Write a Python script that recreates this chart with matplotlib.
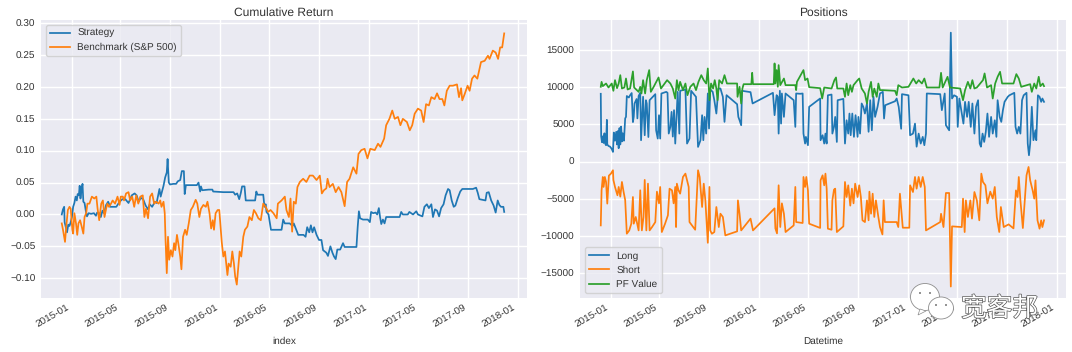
import pandas as pd
from matplotlib import pyplot as plt
from matplotlib import dates as mdates
from matplotlib import patheffects
from matplotlib.patches import Ellipse, Polygon

# all series are stored as days since 2015-01-01
base_date = pd.Timestamp("2015-01-01")

strategy_days = [-24, -21, -18, -17, -14, -11, -8, -5, -2, 1, 4, 7, 10, 13, 15, 18, 20, 22, 24, 27, 29, 32, 35, 38, 42, 48, 55, 60, 63, 68, 72, 76, 80, 85, 90, 95, 100, 110, 118, 125, 132, 140, 148, 155, 160, 165, 170, 176, 182, 188, 192, 198, 205,
                 209, 216, 219, 226, 230, 234, 236, 239, 242, 250, 257, 261, 267, 271, 276, 278, 281, 291, 308, 312, 316, 318, 321, 337, 346, 348, 373, 398, 402, 407, 412, 416, 419, 425, 428, 439, 451, 454, 457, 471, 474, 477, 479, 484, 487, 490, 512,
                 516, 520, 524, 536, 543, 546, 552, 557, 570, 575, 579, 584, 588, 592, 596, 602, 608, 614, 618, 626, 630, 636, 641, 645, 649, 653, 660, 667, 671, 700, 703, 706, 709, 716, 728, 733, 736, 741, 747, 751, 755, 758, 761, 765, 769, 773, 806, 810, 814, 826, 830, 839, 847, 851, 862, 867, 873, 878, 884, 888, 893, 898, 903, 908, 914, 919, 925, 929, 934, 939, 943, 949, 955, 960, 974, 986, 994, 998, 1002, 1017, 1020, 1025, 1031, 1037, 1042, 1047, 1051, 1055, 1061, 1063]
strategy_values = [0.000, 0.008, 0.012, -0.012, -0.020, -0.028, -0.016, -0.018, -0.012, -0.004, 0.012, 0.018, 0.028, 0.022, 0.032, 0.030, 0.045, 0.025, 0.036, 0.048, 0.020, 0.018, 0.006, -0.003, 0.002, 0.001, 0.002, -0.002, 0.003, 0.002, -0.004, 0.006, 0.002, 0.015, 0.020, 0.012, 0.012, 0.012, 0.020, 0.024, 0.024, 0.018, 0.030, 0.033, 0.030, 0.020, 0.026, 0.024, 0.014, 0.008, 0.016, 0.012, 0.020,
                   0.018, 0.040, 0.028, 0.045, 0.058, 0.066, 0.087, 0.050, 0.047, 0.048, 0.048, 0.052, 0.054, 0.068, 0.068, 0.032, 0.046, 0.046, 0.046, 0.050, 0.036, 0.044, 0.038, 0.039, 0.039, 0.036, 0.035, 0.035, 0.031, 0.033, 0.024, 0.034, 0.044, 0.044, 0.022, 0.022, 0.022, 0.036, 0.031, 0.031, 0.012, 0.016, 0.004, 0.000, -0.012, -0.024, -0.024,
                   -0.024, -0.008, -0.014, -0.014, -0.018, -0.014, -0.024, -0.032, -0.032, -0.035, -0.020, -0.028, -0.017, -0.028, -0.020, -0.032, -0.040, -0.040, -0.056, -0.060, -0.065, -0.050, -0.060, -0.066, -0.070, -0.055, -0.055, -0.045, -0.051, -0.051, -0.020, 0.005, -0.006, -0.008, -0.008, -0.012, 0.004, 0.002, 0.003, 0.000, 0.010, -0.004, -0.015, -0.008, -0.014, -0.004, -0.004, 0.004, 0.000, 0.000, 0.004, 0.000, 0.005, 0.000, -0.003, 0.012, 0.016, 0.010, 0.016, -0.004, 0.008, 0.006, -0.003, 0.010, 0.016, 0.030, 0.040, 0.038, 0.022, 0.012, 0.014, 0.026, 0.036, 0.040, 0.040, 0.040, 0.042, 0.034, 0.024, 0.022, 0.034, 0.035, 0.022, 0.014, 0.003, 0.022, 0.015, 0.012, 0.012, 0.004]

benchmark_days = [-24, -21, -19, -16, -13, -9, -5, -2, 2, 4, 7, 11, 14, 17, 21, 25, 29, 32, 36, 39, 44, 50, 56, 61, 64, 68, 73, 77, 81, 85, 88, 92, 97, 101, 107, 113, 118, 121, 126, 129, 134, 140, 144, 149, 154, 159, 164, 169, 175, 179, 183, 188, 193, 198, 203, 208, 214, 218, 221, 226, 229, 231, 234, 237, 240, 244, 248, 252, 255, 259, 263, 267, 270, 274, 279, 283, 288, 293, 298, 305, 309, 314, 318, 324, 330, 334, 339, 343, 347, 350, 354, 359, 363, 369, 373, 377, 383, 386, 391, 395, 399, 402, 406, 409, 413, 417, 422, 426, 432, 437, 443, 448, 453, 459, 465, 471, 477, 483, 489, 496, 504,
                  507, 516, 524, 528, 534, 538, 542, 546, 551, 555, 561, 569, 577, 585, 593, 602, 610, 615, 620, 626, 629, 634, 642, 649, 656, 663, 671, 677, 683, 692, 700, 705, 712, 720, 727, 734, 745, 753, 759, 768, 773, 781, 788, 794, 802, 808, 814, 824, 831, 837, 843, 851, 859, 865, 871, 878, 884, 892, 898, 904, 911, 916, 922, 929, 937, 947, 952, 957, 960, 966, 973, 978, 984, 990, 997, 1006, 1015, 1023, 1027, 1035, 1042, 1048, 1053, 1058, 1063]
benchmark_values = [-0.014, -0.024, -0.032, -0.043, -0.019, 0.007, 0.012, 0.009, -0.024, -0.030, 0.002, -0.014, -0.032, -0.014, -0.009, -0.019, -0.030, -0.004, 0.002, 0.017, 0.017, 0.028, 0.025, 0.028, 0.009, -0.009, 0.017, 0.022, -0.004, 0.009, 0.017, 0.012, 0.017, 0.022, 0.017, 0.028, 0.015, 0.028, 0.028, 0.022, 0.033, 0.035, 0.022, 0.028, 0.012, 0.030, 0.017, 0.028, 0.030, -0.004, 0.009, -0.006, 0.028, 0.033, 0.017, 0.020, 0.017, 0.022, 0.012, 0.020, 0.002, -0.040, -0.092, -0.035, -0.071, -0.056, -0.066, -0.045, -0.056, -0.032, -0.048, -0.066, -0.086, -0.035, -0.024, -0.032, -0.014, 0.007, 0.012, 0.023, 0.017, -0.004, 0.009, 0.015, 0.012, 0.020, 0.002, -0.022, -0.009, -0.024, 0.002, 0.007, 0.007, -0.043, -0.066, -0.058, -0.095, -0.077, -0.082, -0.058, -0.077, -0.097, -0.110, -0.087, -0.058, -0.066, -0.035, -0.024, -0.019, -0.004, -0.009, 0.007, 0.002, -0.006, -0.009, 0.017, 0.012, 0.004, 0.007, 0.002, -0.006,
                    0.017, 0.022, 0.028, 0.007, -0.004, 0.025, -0.027, 0.020, 0.017, 0.043, 0.051, 0.056, 0.051, 0.061, 0.061, 0.054, 0.061, 0.033, 0.038, 0.041, 0.056, 0.043, 0.048, 0.035, 0.043, 0.035, 0.013, 0.051, 0.056, 0.074, 0.064, 0.095, 0.101, 0.103, 0.088, 0.103, 0.101, 0.111, 0.106, 0.119, 0.140, 0.150, 0.163, 0.150, 0.153, 0.140, 0.150, 0.145, 0.132, 0.140, 0.158, 0.166, 0.163, 0.145, 0.173, 0.171, 0.184, 0.181, 0.190, 0.181, 0.181, 0.171, 0.194, 0.202, 0.202, 0.204, 0.184, 0.198, 0.179, 0.189, 0.202, 0.194, 0.213, 0.218, 0.213, 0.239, 0.241, 0.249, 0.244, 0.257, 0.254, 0.244, 0.262, 0.262, 0.284]

long_days = [-24, -23, -21, -19, -17, -15, -13, -11, -9, -8, -5, -1, 3, 6, 8, 11, 14, 16, 18, 20, 22, 24, 26, 28, 30, 33, 36, 38, 40, 45, 48, 52, 55, 57, 59, 64, 66, 69,
             73, 75, 80, 84, 87, 89, 93, 96, 110, 112, 116, 119, 122, 125, 137, 140, 143, 147, 150, 153, 156, 159, 162, 165, 169, 171, 184, 188, 194, 198, 210, 215, 221, 225, 228, 231, 235, 239, 242, 245, 251, 255, 260, 265, 270, 276, 280, 285, 311, 314, 317, 321, 323, 344, 349, 399, 403, 408, 411, 413, 416, 419, 421, 426, 430, 450, 454, 456,
             466, 472, 474, 478, 480, 485, 488, 515, 516, 521, 525, 528, 531, 534, 543, 545, 549, 552, 556, 558, 572, 576, 580, 584, 587, 590, 594, 598, 602, 607, 609, 613, 617, 621, 625, 630, 634, 638, 642, 646, 650, 656, 662, 669, 672, 675, 699, 703, 708, 714, 716, 732, 736, 743, 748, 752, 757, 762, 767, 771, 775, 777, 810, 814, 821, 824, 832, 836, 839, 844, 851, 853, 857, 863, 867, 871, 876, 880, 885, 889, 894, 898, 903, 907, 910, 914, 918, 922, 926, 930, 935, 939, 944, 948, 951, 956, 960, 964, 968, 976, 980, 992, 995, 999, 1003, 1007, 1011, 1015, 1022, 1025, 1028, 1031, 1035, 1039, 1044, 1046, 1050, 1054, 1058, 1061, 1065]
long_values = [9100, 3400, 2600, 3400, 2500, 3800, 2400, 2200, 5600, 2300, 2100, 2000, 1700, 1300, 3900, 2800, 4000, 2300, 4100, 1800, 4500, 2300, 4700, 2700, 3800, 2800, 5800, 6000, 8800, 8600, 8900, 9200, 5300, 6000, 7800, 8400, 5800, 8800,
               9230, 2870, 8700, 3540, 8240, 7800, 3300, 8240, 9050, 4200, 3090, 6230, 3090, 9140, 9360, 9230, 3760, 4660, 6675, 3360, 6900, 2420, 5780, 9360, 3760, 9500, 9680, 2420, 3090, 9500, 8690, 1970, 2870, 6230, 2870, 6000, 3760, 9140, 4440, 9680, 9360, 8240, 6450, 9810, 9810, 8690, 5330, 8915, 7700, 6000, 5550, 4880, 9500, 9320, 7800, 9230, 6230, 8915, 8690, 3760, 9500, 5100, 9140, 6000, 9140, 8240, 4660, 9140,
               9100, 9140, 3760, 2420, 3320, 2200, 7350, 8470, 2870, 3540, 2420, 3760, 2420, 8900, 9000, 3760, 4660, 6000, 2640, 8240, 8420, 2420, 5550, 3760, 6450, 3540, 6450, 3320, 6230, 3320, 6000, 3760, 7800, 7350, 6450, 7800, 4000, 8240, 4200, 8700, 6000, 7350, 9140, 9360, 5780, 7570, 8100, 8470, 7350, 4400, 9050, 8900, 3540, 3760, 5100, 2000, 3760, 2420, 3320, 2200, 3760, 9140, 9050, 6900, 9140, 4880, 4200, 17300, 8470, 8900, 8700, 4660, 8470, 6450, 5100, 8020, 6000, 8020, 4660, 7800, 3760, 7350, 8240, 2420, 2000, 3760, 2640, 4000, 6450, 3320, 6000, 3760, 5550, 3320, 8240, 6000, 5330, 6900, 8020, 8700, 8900, 9230, 4660, 3760, 4660, 3760, 8240, 8900, 9230, 2420, 850, 2420, 7350, 2870, 4200, 2870, 8900, 8700, 8020, 8470, 8020]

short_days = [-24, -22, -19, -17, -14, -11, -8, -4, 1, 6, 7, 11, 17, 20, 24, 28, 32, 36, 40, 46, 51, 55, 57, 62, 69, 73, 77, 81, 84, 88, 92, 96, 102, 110, 114, 119, 122, 126, 134, 141, 145, 151, 155, 159, 161, 163, 167, 171, 178, 184, 188, 192, 194, 208, 215, 219, 225, 229, 233, 239, 243, 245, 249, 255, 260, 266, 270, 276, 282, 311, 313, 317, 321, 344, 350, 403, 405, 409, 413, 417, 421, 426, 430, 450, 454, 456, 472, 474, 478, 481, 485, 488,
              515, 516, 521, 525, 528, 531, 534, 543, 545, 549, 552, 556, 572, 576, 580, 584, 589, 593, 597, 601, 607, 611, 615, 619, 625, 630, 634, 636, 640, 644, 648, 652, 658, 662, 668, 671, 674, 703, 707, 711, 715, 718, 734, 736, 743, 748, 752, 757, 762, 767, 772, 775, 810, 812, 818, 824, 832, 836, 839, 863, 866, 870, 873, 878, 884, 888, 894, 900, 906, 911, 915, 921, 926, 933, 939, 944, 949, 955, 959, 966, 978, 990, 996, 1000, 1003, 1007, 1013, 1022, 1027, 1031, 1037, 1041, 1044, 1049, 1054, 1058, 1061, 1065]
short_values = [-8560, -3850, -2060, -3400, -2060, -2730, -5640, -1880, -1610, -1160, -2460, -3400, -4520, -3400, -4700, -2730, -4030, -5150, -9670, -9230, -8330, -4750, -8330, -7430, -9230, -3850, -9230, -7430, -2460, -9230, -2960, -9230, -8780, -8110, -4030, -5600, -3400, -9450, -8330, -7200, -3630, -3850, -5600, -3400, -8780, -2960, -3850, -4300, -2060, -1610, -2500, -3400, -8110, -9140, -1160, -2060, -6090, -2960, -5200, -10890, -3400, -9230, -9680, -9450, -6090, -8780, -6990, -7430, -9900, -9360, -5200, -7000, -9230, -7650, -9230, -6270, -8960, -9630, -3180, -8780, -5600, -7000, -9450, -8560, -3400, -8110, -8240, -2060, -3400, -2060, -3850, -8330,
                -8900, -2510, -1840, -3180, -1610, -3630, -9000, -9140, -5200, -3760, -3630, -9450, -8690, -2730, -4750, -3180, -5910, -3630, -5600, -2960, -4750, -3180, -4750, -7880, -8110, -5200, -7880, -4030, -6990, -4300, -7430, -5200, -7430, -8780, -9770, -5200, -8110, -8110, -8780, -4300, -7000, -8870, -8870, -3180, -4080, -2060, -3630, -2060, -3400, -2060, -3400, -9230, -8110, -7000, -8780, -4210, -4210, -16760, -8690, -8780, -4970, -9450, -5200, -7430, -5200, -7650, -4080, -5200, -7880, -1610, -2730, -3180, -5600, -4030, -4970, -3400, -7430, -9450, -6090, -8780, -8420, -8960, -3860, -4750, -2060, -5200, -8915, -1840, -720, -2510, -3850, -4970, -2510, -7880, -9000, -7880, -8780, -7880]

pf_days = [-24, -22, -19, -11, -5, 3, 7, 11, 16, 20, 24, 28, 34, 38, 42, 48, 55, 58, 69, 73, 76, 80, 85, 89, 95, 99, 106, 118, 124, 130, 139, 147, 153, 159, 163, 167, 171, 178, 184, 189, 196, 204, 210, 216, 223, 229, 235, 239, 243, 247, 252, 256, 260, 263, 267, 274, 280, 286, 311, 312, 317, 321, 324, 327, 346, 348, 350, 401, 403, 405, 408, 411, 413, 417, 426, 430, 454, 456, 458, 474,
           478, 484, 488, 515, 520, 525, 543, 550, 554, 557, 572, 576, 580, 584, 589, 593, 597, 607, 611, 617, 625, 630, 634, 640, 644, 648, 654, 658, 662, 669, 699, 703, 707, 716, 732, 744, 751, 757, 765, 771, 777, 808, 812, 816, 828, 834, 859, 866, 871, 878, 884, 889, 894, 900, 915, 919, 925, 935, 939, 945, 951, 957, 962, 990, 997, 1003, 1009, 1031, 1035, 1041, 1046, 1052, 1056, 1062, 1065]
pf_values = [10035, 10700, 10125, 10480, 9945, 10480, 9500, 10930, 9855, 10480, 11600, 9810, 9945, 11150, 9675, 9810, 12100, 9945, 9360, 10035, 9140, 10930, 9140, 10930, 12280, 9360, 10035, 11290, 9810, 10260, 10930, 10480, 9810, 8465, 10930, 9590, 10700, 9590, 10480, 8915, 10035, 10480, 9590, 10700, 11600, 10930, 10480, 12500, 8240, 10480, 9810, 10930, 9810, 8240, 10930, 10480, 11600, 10480, 10480, 8690, 10035, 7790, 9810, 10390, 10390, 11915, 10390, 10390, 13170, 10480, 12280, 10035, 12950, 10260, 11150, 10260, 10260, 9590, 10700, 12280,
             10930, 11150, 9990, 9855, 8465, 9945, 9810, 10930, 11290, 9810, 9810, 8690, 10480, 8915, 10260, 9360, 10260, 10930, 11150, 9810, 9140, 7790, 9360, 10700, 8690, 9810, 8690, 10480, 9590, 9590, 9500, 8915, 10260, 9945, 10035, 11150, 10480, 10930, 10480, 11150, 9945, 9945, 11915, 9945, 11380, 9945, 9810, 8240, 9590, 10700, 9810, 10930, 9810, 9945, 10930, 11830, 9945, 10260, 8465, 10480, 11380, 12050, 10480, 10480, 11740, 11150, 10035, 10390, 9360, 10480, 9810, 11380, 10125, 10480, 10125]


def to_dates(days):
    return base_date + pd.to_timedelta(days, unit="D")


def style_axis(ax, title, xlabel):
    ax.set_facecolor("#EAEAF2")
    ax.grid(True, color="white", linewidth=1.0)
    ax.set_axisbelow(True)
    for side in ["top", "right", "left", "bottom"]:
        ax.spines[side].set_visible(False)
    ax.tick_params(length=0, labelsize=7.1, colors="#333333", pad=4)
    ax.set_xlim(to_dates([-75])[0], to_dates([1119])[0])
    ax.xaxis.set_major_locator(mdates.MonthLocator(bymonth=[1, 5, 9]))
    ax.xaxis.set_major_formatter(mdates.DateFormatter("%Y-%m"))
    for label in ax.get_xticklabels():
        label.set_rotation(30)
        label.set_ha("right")
    ax.set_title(title, fontsize=8.4, color="#333333", pad=3)
    ax.set_xlabel(xlabel, fontsize=7.1, color="#333333", labelpad=5)


plt.rcParams["font.family"] = ["Liberation Sans", "DejaVu Sans"]
plt.rcParams["text.hinting"] = "no_hinting"
plt.rcParams["text.hinting_factor"] = 1
W, H = 1072, 352
fig = plt.figure(figsize=(W / 100, H / 100), dpi=100)

ax1 = fig.add_axes([41 / W, (H - 298) / H, 486 / W, 278 / H])
ax1.plot(to_dates(strategy_days), strategy_values, color="#1f77b4", linewidth=1.25, label="Strategy")
ax1.plot(to_dates(benchmark_days), benchmark_values, color="#ff7f0e", linewidth=1.25, label="Benchmark (S&P 500)")
style_axis(ax1, "Cumulative Return", "index")
ax1.set_ylim(-0.131, 0.305)
ax1.set_yticks([-0.10, -0.05, 0.00, 0.05, 0.10, 0.15, 0.20, 0.25, 0.30])
ax1.yaxis.set_major_formatter(lambda v, pos: f"{v:.2f}".replace("-", "\u2212"))
ax1.legend(loc="upper left", fontsize=7.1, facecolor="#EAEAF2", edgecolor="#CCCCCC", labelcolor="#333333")

ax2 = fig.add_axes([580 / W, (H - 298) / H, 486 / W, 278 / H])
ax2.plot(to_dates(long_days), long_values, color="#1f77b4", linewidth=1.25, label="Long")
ax2.plot(to_dates(short_days), short_values, color="#ff7f0e", linewidth=1.25, label="Short")
ax2.plot(to_dates(pf_days), pf_values, color="#2ca02c", linewidth=1.25, label="PF Value")
style_axis(ax2, "Positions", "Datetime")
ax2.set_ylim(-18300, 19000)
ax2.set_yticks([-15000, -10000, -5000, 0, 5000, 10000, 15000])
ax2.legend(loc="lower left", fontsize=7.1, facecolor="#EAEAF2", edgecolor="#CCCCCC", labelcolor="#333333")

# watermark: chat bubbles plus name
bubbles = [(925, 297, 29, 27), (941, 308, 25, 22)]
for cx, cy, w, h in bubbles:
    fig.add_artist(Ellipse((cx / W, (H - cy) / H), w / W, h / H, transform=fig.transFigure,
                           facecolor="white", edgecolor="#8c8c8c", linewidth=0.6, zorder=5))
fig.add_artist(Polygon([(920 / W, (H - 309) / H), (918 / W, (H - 315) / H), (926 / W, (H - 311) / H)],
                       closed=True, transform=fig.transFigure, facecolor="white", edgecolor="#8c8c8c",
                       linewidth=0.5, zorder=5))
for cx, cy in [(920, 293), (930, 293), (936, 305), (946, 305)]:
    fig.add_artist(Ellipse((cx / W, (H - cy) / H), 2 / W, 2 / H, transform=fig.transFigure,
                           facecolor="#777777", edgecolor="none", zorder=6))
wm = fig.text(961 / W, (H - 316) / H, "宽客邦", fontsize=18.5, color="white", zorder=6,
              family=["Noto Sans CJK SC", "DejaVu Sans"], ha="left", va="baseline")
wm.set_path_effects([patheffects.withStroke(linewidth=1.0, foreground="#555555")])

fig.savefig("out.png", dpi=100)
